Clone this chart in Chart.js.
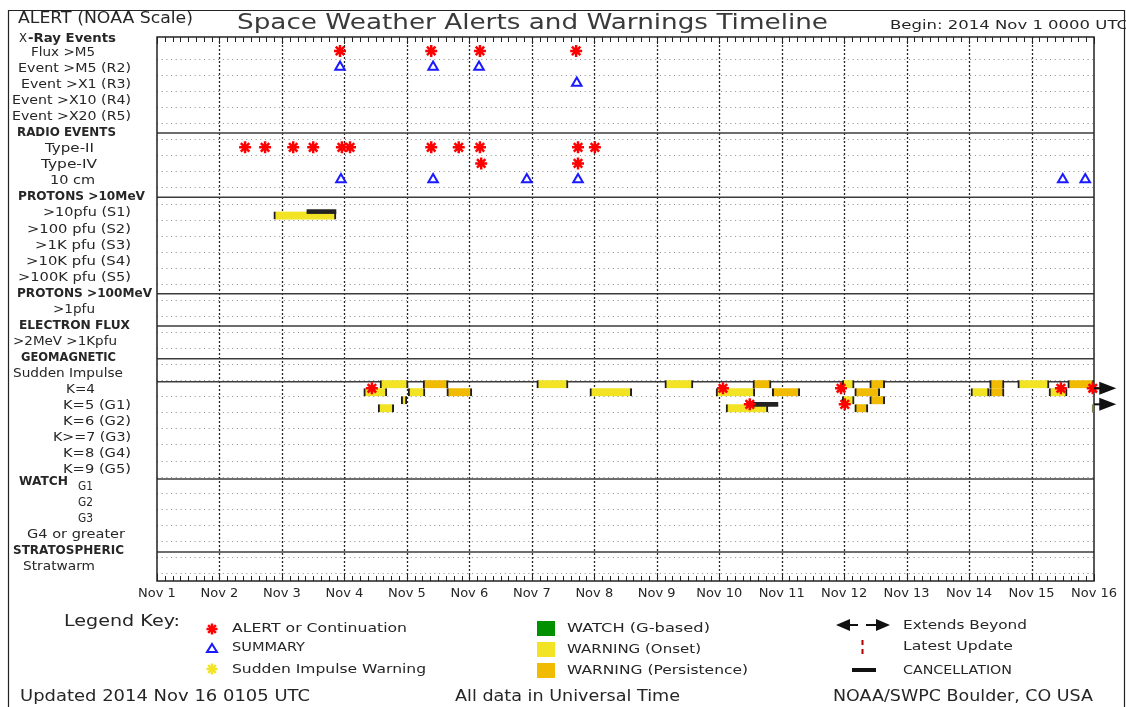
<!DOCTYPE html>
<html>
<head>
<meta charset="utf-8">
<title>Space Weather Alerts and Warnings Timeline</title>
<script src="https://cdn.jsdelivr.net/npm/chart.js@4.4.1/dist/chart.umd.min.js"></script>
<style>
  body { margin: 0; background: #fff; }
  canvas { display: block; }
</style>
</head>
<body>
<canvas id="timeline" width="1126" height="707"></canvas>
<script>
// time runs in days from 2014 Nov 1 0000 UTC
const dayLabels = ['Nov 1', 'Nov 2', 'Nov 3', 'Nov 4', 'Nov 5', 'Nov 6', 'Nov 7', 'Nov 8',
    'Nov 9', 'Nov 10', 'Nov 11', 'Nov 12', 'Nov 13', 'Nov 14', 'Nov 15', 'Nov 16'];

// one entry per row, top to bottom (section headers take a row too)
const rowLabels = ['Flux >M5', 'Event >M5 (R2)', 'Event >X1 (R3)', 'Event >X10 (R4)', 'Event >X20 (R5)',
    'RADIO EVENTS', 'Type-II', 'Type-IV', '10 cm',
    'PROTONS >10MeV', '>10pfu (S1)', '>100 pfu (S2)', '>1K pfu (S3)', '>10K pfu (S4)', '>100K pfu (S5)',
    'PROTONS >100MeV', '>1pfu', 'ELECTRON FLUX', '>2MeV >1Kpfu',
    'GEOMAGNETIC', 'Sudden Impulse', 'K=4', 'K=5 (G1)', 'K=6 (G2)', 'K>=7 (G3)', 'K=8 (G4)', 'K=9 (G5)',
    'G1', 'G2', 'G3', 'G4 or greater', 'STRATOSPHERIC', 'Stratwarm'];
const headerRows = ['RADIO EVENTS', 'PROTONS >10MeV', 'PROTONS >100MeV', 'ELECTRON FLUX', 'GEOMAGNETIC', 'STRATOSPHERIC'];

// ALERT or Continuation (day of issue)
const fluxAlerts = [2.93, 4.39, 5.17, 6.71];
const typeIIAlerts = [1.41, 1.73, 2.18, 2.50, 2.96, 3.09, 4.39, 4.83, 5.17, 6.74, 7.01];
const typeIVAlerts = [5.19, 6.74];
const k4Alerts = [3.44, 9.06, 10.95, 14.47, 14.98];
const k5Alerts = [9.49, 11.01];

// SUMMARY
const m5Summaries = [2.93, 4.42, 5.155];
const x1Summaries = [6.72];
const tenCmSummaries = [2.945, 4.42, 5.92, 6.74, 14.50, 14.86];

// WARNING periods [start, end]; each row has an upper and a lower track
const s1OnsetLow = [[1.87, 2.865]];
const k4OnsetHigh = [[3.57, 4.02], [6.08, 6.58], [8.13, 8.58], [10.97, 11.16], [13.78, 14.28]];
const k4OnsetLow = [[3.31, 3.68], [4.02, 4.29], [6.93, 7.60], [8.95, 9.57], [13.03, 13.32], [14.28, 14.57]];
const k4PersistHigh = [[4.26, 4.66], [9.54, 9.83], [11.41, 11.65], [13.33, 13.56], [14.58, 15.0]];
const k4PersistLow = [[4.64, 5.04], [9.85, 10.29], [11.17, 11.57], [13.33, 13.56]];
const k5OnsetHigh = [[3.91, 4.00], [10.97, 11.16]];
const k5OnsetLow = [[3.54, 3.79], [9.11, 9.78], [14.97, 15.0]];
const k5PersistHigh = [[11.41, 11.65]];
const k5PersistLow = [[11.17, 11.38]];

// CANCELLATION periods
const s1Cancel = [[2.40, 2.865]];
const k5Cancel = [[9.445, 9.94]];

// rows whose warnings extend beyond the plotted window
const extendsBeyond = ['K=4', 'K=5 (G1)'];

// ---- layout only below ----
const sectionBreaks = [5.1, 9.1, 15.12, 17.12, 19.17, 20.6, 26.65, 31.2];
const labelBox = [[31, 95], [18, 131], [21, 131], [12, 131], [12, 131],
    [17, 116], [45, 94], [41, 97], [50, 95],
    [18, 145], [43, 131], [27, 131], [35, 131], [26, 131], [18, 131],
    [17, 152], [53, 95], [19, 130], [13, 117],
    [21, 116], [13, 123], [66, 95], [63, 131], [63, 131], [53, 131], [63, 131], [63, 131],
    [78, 93], [78, 93], [78, 93], [27, 125], [13, 124], [23, 95]];

const YELLOW = '#f2e424';
const ORANGE = '#f0bb00';
const GREEN = '#009000';
const CAP = '#1e1e1e';
const INK = '#262626';

const rowOf = name => rowLabels.indexOf(name);
const span = (list, row) => list.map(([s, e]) => ({ x: [s, e], y: row }));
const marks = (list, row) => list.map(d => ({ x: d, y: row }));
const HIGH = -0.25, LOW = 0.25;

const barStyle = {
    type: 'bar',
    indexAxis: 'y',
    grouped: false,
    barThickness: 8,
    borderColor: CAP,
    borderWidth: { left: 2, right: 2, top: 0, bottom: 0 },
    borderSkipped: false,
    order: 3
};

function line(ctx, x1, y1, x2, y2) {
    ctx.beginPath();
    ctx.moveTo(x1, y1);
    ctx.lineTo(x2, y2);
    ctx.stroke();
}

// draw text, optionally stretched to span [x, x + width]
function text(ctx, str, x, y, o = {}) {
    ctx.save();
    ctx.font = (o.bold ? 'bold ' : '') + (o.size || 13) + 'px "DejaVu Sans"';
    ctx.fillStyle = o.color || INK;
    ctx.textBaseline = 'middle';
    const w = ctx.measureText(str).width;
    const sx = o.width ? o.width / w : 1;
    ctx.translate(x, y);
    ctx.scale(sx, 1);
    let dx = 0;
    if (o.align === 'center') dx = -w / 2;
    if (o.align === 'right') dx = -w;
    ctx.fillText(str, dx, 0);
    ctx.restore();
}

function star(ctx, x, y, r, color) {
    ctx.save();
    ctx.strokeStyle = color;
    ctx.lineWidth = 2.5;
    line(ctx, x - r, y, x + r, y);
    line(ctx, x, y - r, x, y + r);
    const d = r * 0.7;
    line(ctx, x - d, y - d, x + d, y + d);
    line(ctx, x - d, y + d, x + d, y - d);
    ctx.restore();
}

function triangle(ctx, x, y, dir, w, h, fill) {
    ctx.beginPath();
    if (dir === 'up') {
        ctx.moveTo(x, y - h / 2); ctx.lineTo(x + w / 2, y + h / 2); ctx.lineTo(x - w / 2, y + h / 2);
    } else if (dir === 'right') {
        ctx.moveTo(x + w / 2, y); ctx.lineTo(x - w / 2, y - h / 2); ctx.lineTo(x - w / 2, y + h / 2);
    } else {
        ctx.moveTo(x - w / 2, y); ctx.lineTo(x + w / 2, y - h / 2); ctx.lineTo(x + w / 2, y + h / 2);
    }
    ctx.closePath();
    if (fill) ctx.fill(); else ctx.stroke();
}

const decor = {
    id: 'decor',
    beforeDraw(chart) {
        const ctx = chart.ctx;
        ctx.save();
        ctx.fillStyle = '#fff';
        ctx.fillRect(0, 0, chart.width, chart.height);
        ctx.restore();
    },
    beforeDatasetsDraw(chart) {
        const { ctx, chartArea: a, scales: { x, y } } = chart;
        ctx.save();
        // row guides
        ctx.strokeStyle = '#8c8c8c';
        ctx.lineWidth = 1;
        ctx.setLineDash([1, 3.7]);
        for (let i = 0; i < rowLabels.length; i++) {
            const py = Math.round(y.getPixelForValue(i + 0.5)) + 0.5;
            line(ctx, a.left, py, a.right, py);
        }
        // day lines
        ctx.strokeStyle = '#262626';
        ctx.lineWidth = 1.3;
        ctx.setLineDash([2, 2]);
        for (let d = 1; d < dayLabels.length - 1; d++) {
            const px = Math.round(x.getPixelForValue(d)) + 0.5;
            line(ctx, px, a.top, px, a.bottom);
        }
        ctx.setLineDash([]);
        // section breaks
        ctx.strokeStyle = '#3c3c3c';
        ctx.lineWidth = 1.5;
        sectionBreaks.forEach(v => {
            const py = y.getPixelForValue(v);
            line(ctx, a.left, py, a.right, py);
        });
        // frame and 3-hour rulers
        ctx.strokeStyle = '#222';
        ctx.strokeRect(a.left, a.top, a.right - a.left, a.bottom - a.top);
        ctx.lineWidth = 1;
        for (let h = 0; h <= (dayLabels.length - 1) * 8; h++) {
            const px = Math.round(x.getPixelForValue(h / 8)) + 0.5;
            const len = h % 8 === 0 ? 7 : 5;
            line(ctx, px, a.top, px, a.top + len);
            line(ctx, px, a.bottom, px, a.bottom - len);
        }
        ctx.restore();
    },
    afterDatasetsDraw(chart) {
        // "extends beyond" arrows just past the right edge of the window
        const { ctx, chartArea: a, scales: { x, y } } = chart;
        ctx.save();
        ctx.fillStyle = '#111';
        ctx.strokeStyle = '#111';
        ctx.lineWidth = 2;
        const cx = x.getPixelForValue(15.22);
        extendsBeyond.forEach(r => {
            const py = y.getPixelForValue(rowOf(r));
            line(ctx, a.right, py, cx, py);
            triangle(ctx, cx, py, 'right', 17, 13, true);
        });
        ctx.restore();
    },
    afterDraw(chart) {
        const { ctx, chartArea: a, scales: { x, y } } = chart;
        ctx.save();
        // outer frame
        ctx.strokeStyle = '#222';
        ctx.lineWidth = 1.2;
        ctx.beginPath();
        ctx.moveTo(8.5, 707);
        ctx.lineTo(8.5, 10.5);
        ctx.lineTo(1124.5, 10.5);
        ctx.lineTo(1124.5, 707);
        ctx.stroke();

        // headings
        text(ctx, 'ALERT (NOAA Scale)', 18, 19, { size: 15, width: 175 });
        text(ctx, 'Space Weather Alerts and Warnings Timeline', 237, 24, { size: 21, width: 591, color: '#3a3a3a' });
        text(ctx, 'Begin: 2014 Nov 1 0000 UTC', 890, 26, { size: 12, width: 238 });

        // row labels
        text(ctx, 'X', 19, 39, { size: 12, width: 8 });
        text(ctx, '-Ray Events', 28, 39, { size: 12, bold: true, width: 88 });
        rowLabels.forEach((lab, i) => {
            const [l, r] = labelBox[i];
            const bold = headerRows.includes(lab);
            text(ctx, lab, l, y.getPixelForValue(i) + 1.5, { size: bold ? 12 : 13, bold, width: r - l });
        });
        text(ctx, 'WATCH', 19, y.getPixelForValue(rowOf('G1')) - 3, { size: 12, bold: true, width: 49 });

        // day labels
        dayLabels.forEach((lab, d) => {
            text(ctx, lab, x.getPixelForValue(d), a.bottom + 13, { size: 13, align: 'center' });
        });

        // legend key
        text(ctx, 'Legend Key:', 64, 622, { size: 15, width: 116 });
        star(ctx, 212, 629, 5.5, '#ff0000');
        text(ctx, 'ALERT or Continuation', 232, 629, { size: 13, width: 175 });
        ctx.strokeStyle = '#1a1aff';
        ctx.lineWidth = 2;
        triangle(ctx, 212, 648, 'up', 10, 8, false);
        text(ctx, 'SUMMARY', 232, 648, { size: 13, width: 73 });
        star(ctx, 212, 669, 5.5, '#f2e424');
        text(ctx, 'Sudden Impulse Warning', 232, 670, { size: 13, width: 194 });

        [[GREEN, 621, 'WATCH (G-based)', 143], [YELLOW, 642, 'WARNING (Onset)', 134],
         [ORANGE, 663, 'WARNING (Persistence)', 181]].forEach(([c, top, lab, w]) => {
            ctx.fillStyle = c;
            ctx.fillRect(537, top, 18, 15);
            text(ctx, lab, 567, top + 8, { size: 13, width: w });
        });

        ctx.fillStyle = '#111';
        ctx.strokeStyle = '#111';
        ctx.lineWidth = 2;
        triangle(ctx, 843, 625, 'left', 14, 12, true);
        line(ctx, 849, 625, 858, 625);
        line(ctx, 866, 625, 876, 625);
        triangle(ctx, 883, 625, 'right', 14, 12, true);
        text(ctx, 'Extends Beyond', 903, 626, { size: 13, width: 124 });
        ctx.strokeStyle = '#b00000';
        ctx.setLineDash([5, 4]);
        line(ctx, 862.5, 640, 862.5, 658);
        ctx.setLineDash([]);
        text(ctx, 'Latest Update', 903, 647, { size: 13, width: 110 });
        ctx.fillStyle = '#111';
        ctx.fillRect(852, 668, 24, 4);
        text(ctx, 'CANCELLATION', 903, 671, { size: 13, width: 109 });

        // footer
        text(ctx, 'Updated 2014 Nov 16 0105 UTC', 20, 697, { size: 15, width: 290 });
        text(ctx, 'All data in Universal Time', 455, 697, { size: 15, width: 225 });
        text(ctx, 'NOAA/SWPC Boulder, CO USA', 833, 697, { size: 15, width: 260 });
        ctx.restore();
    }
};

const S1 = rowOf('>10pfu (S1)');
const K4 = rowOf('K=4');
const K5 = rowOf('K=5 (G1)');

new Chart(document.getElementById('timeline'), {
    type: 'bar',
    data: {
        datasets: [{
            ...barStyle,
            label: 'WARNING (Onset)',
            backgroundColor: YELLOW,
            data: [
                ...span(s1OnsetLow, S1 + LOW),
                ...span(k4OnsetHigh, K4 + HIGH),
                ...span(k4OnsetLow, K4 + LOW),
                ...span(k5OnsetHigh, K5 + HIGH),
                ...span(k5OnsetLow, K5 + LOW)
            ]
        }, {
            ...barStyle,
            label: 'WARNING (Persistence)',
            backgroundColor: ORANGE,
            data: [
                ...span(k4PersistHigh, K4 + HIGH),
                ...span(k4PersistLow, K4 + LOW),
                ...span(k5PersistHigh, K5 + HIGH),
                ...span(k5PersistLow, K5 + LOW)
            ]
        }, {
            ...barStyle,
            label: 'CANCELLATION',
            backgroundColor: '#222',
            borderWidth: 0,
            barThickness: 4,
            order: 2,
            data: [...span(s1Cancel, S1), ...span(k5Cancel, K5)]
        }, {
            type: 'scatter',
            label: 'SUMMARY',
            pointStyle: 'triangle',
            radius: 5.5,
            borderWidth: 2,
            borderColor: '#1a1aff',
            backgroundColor: 'rgba(255,255,255,0)',
            order: 1,
            clip: false,
            data: [
                ...marks(m5Summaries, rowOf('Event >M5 (R2)')),
                ...marks(x1Summaries, rowOf('Event >X1 (R3)')),
                ...marks(tenCmSummaries, rowOf('10 cm'))
            ]
        }, {
            type: 'scatter',
            label: 'ALERT or Continuation',
            pointStyle: 'star',
            radius: 6,
            borderWidth: 2.5,
            borderColor: '#ff0000',
            backgroundColor: '#ff0000',
            order: 0,
            clip: false,
            data: [
                ...marks(fluxAlerts, rowOf('Flux >M5')),
                ...marks(typeIIAlerts, rowOf('Type-II')),
                ...marks(typeIVAlerts, rowOf('Type-IV')),
                ...marks(k4Alerts, K4),
                ...marks(k5Alerts, K5)
            ]
        }]
    },
    options: {
        responsive: false,
        animation: false,
        layout: { padding: { left: 157, right: 32, top: 37, bottom: 126 } },
        scales: {
            x: { type: 'linear', min: 0, max: 15, offset: false, display: false },
            y: { type: 'linear', min: -0.87, max: 33.0, reverse: true, offset: false, display: false }
        },
        plugins: {
            legend: { display: false },
            title: { display: false },
            tooltip: { enabled: true }
        }
    },
    plugins: [decor]
});
</script>
</body>
</html>
